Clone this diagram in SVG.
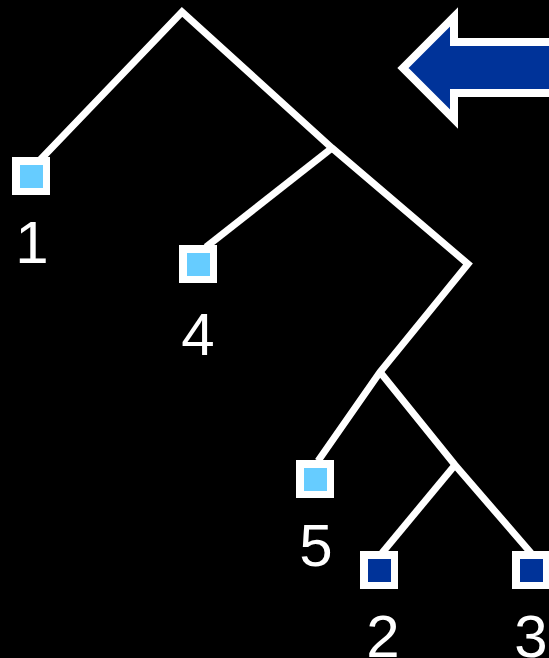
<svg xmlns="http://www.w3.org/2000/svg" width="549" height="658" viewBox="0 0 549 658">
<style>
.bg{fill:#000}
.edge{stroke:#fff;stroke-width:7;fill:none;stroke-linejoin:miter}
.box{fill:#fff}
.light{fill:#66ccff}
.dark{fill:#003399}
.lbl{font-family:"Liberation Sans",Arial,sans-serif;font-size:60px;fill:#fff;text-anchor:middle}
</style>
<rect class="bg" x="0" y="0" width="549" height="658"/>
<g id="connectors">
<polyline class="edge" points="40,160 182,12 332,148 468,264 380,372 318,461"/>
<polyline class="edge" points="206,247 332,148"/>
<polyline class="edge" points="380,372 455,465 531,553"/>
<polyline class="edge" points="455,465 382,553"/>
</g>
<g id="arrow">
<polygon points="403,68 454,17 454,42 560,42 560,93 454,93 454,119" fill="#003399" stroke="#fff" stroke-width="8" stroke-linejoin="miter"/>
</g>
<g id="node1">
<rect class="box" x="12" y="157" width="38" height="38"/>
<rect class="light" x="20" y="165" width="23" height="23"/>
<text class="lbl" x="32" y="263">1</text>
</g>
<g id="node4">
<rect class="box" x="179" y="245" width="38" height="38"/>
<rect class="light" x="187" y="253" width="23" height="23"/>
<text class="lbl" x="198" y="355">4</text>
</g>
<g id="node5">
<rect class="box" x="296" y="460" width="38" height="38"/>
<rect class="light" x="304" y="468" width="23" height="23"/>
<text class="lbl" x="316" y="566">5</text>
</g>
<g id="node2">
<rect class="box" x="360" y="551" width="38" height="38"/>
<rect class="dark" x="368" y="559" width="23" height="23"/>
<text class="lbl" x="383" y="657">2</text>
</g>
<g id="node3">
<rect class="box" x="512" y="551" width="38" height="38"/>
<rect class="dark" x="520" y="559" width="23" height="23"/>
<text class="lbl" x="531" y="657">3</text>
</g>
</svg>
